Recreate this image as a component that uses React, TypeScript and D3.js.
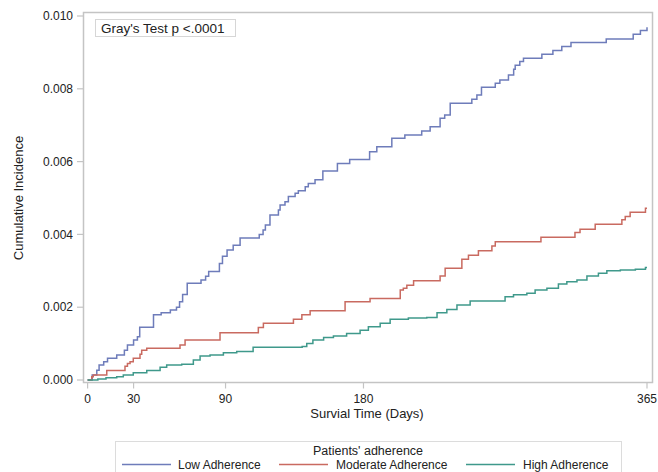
import React from "react";
import * as d3 from "d3";

const lowAdherence: [number, number][] = [
  [0, 0], [3, 0.00014], [6, 0.00027], [7.5, 0.00041], [10.5, 0.0005], [13, 0.0006], [19, 0.00069],
  [24, 0.00082], [26, 0.00096], [30, 0.0011], [32.5, 0.00119], [34, 0.00145], [43, 0.00179],
  [48, 0.00185], [54, 0.00192], [58, 0.002], [60, 0.00215], [62, 0.00235], [65, 0.00266],
  [74, 0.00275], [77, 0.00285], [79, 0.00298], [86, 0.0032], [88, 0.0034], [91, 0.00357],
  [95, 0.0037], [99.5, 0.0039], [112, 0.004], [114.5, 0.00412], [116, 0.00426], [119, 0.00453],
  [124.5, 0.00467], [125.6, 0.00481], [128.8, 0.0049], [131, 0.00504], [135.4, 0.00513],
  [137.5, 0.0052], [142, 0.00531], [144, 0.0054], [148.4, 0.0055], [153.5, 0.00574],
  [163, 0.00595], [171, 0.00606], [184, 0.00627], [188.7, 0.00641], [198.5, 0.00664],
  [207, 0.00673], [218, 0.00684], [223.5, 0.00696], [230, 0.00719], [233, 0.00728],
  [236.6, 0.0076], [250.7, 0.00771], [254, 0.00783], [257, 0.00804], [266, 0.00815],
  [269, 0.00824], [274.6, 0.00838], [278, 0.00854], [279, 0.00865], [282, 0.00875],
  [284.4, 0.00884], [296.4, 0.00895], [303.6, 0.00905], [309.4, 0.00916], [315.4, 0.00927],
  [338.4, 0.00937], [356, 0.0095], [360.7, 0.0096], [365, 0.00969],
];

const moderateAdherence: [number, number][] = [
  [0, 0], [2.7, 0.00009], [3.7, 0.00014], [12.5, 0.00026], [24.4, 0.00038], [26, 0.00045],
  [27.7, 0.0005], [29.8, 0.0006], [34.2, 0.00071], [35.3, 0.00082], [38.6, 0.00087],
  [60.3, 0.00096], [63.6, 0.0011], [86.4, 0.0013], [111.4, 0.00144], [114.7, 0.00156],
  [134.3, 0.00167], [139.8, 0.00179], [145.2, 0.0019], [168, 0.00215], [184.3, 0.00224],
  [204, 0.00247], [206, 0.00252], [208.3, 0.0026], [212.7, 0.00273], [230, 0.00286],
  [233.3, 0.00307], [244.2, 0.00332], [248.5, 0.00343], [255, 0.00355], [263.8, 0.00368],
  [266, 0.0038], [295.8, 0.00392], [318, 0.00405], [321.3, 0.00414], [331.2, 0.00428],
  [348.6, 0.0044], [350.8, 0.00449], [354, 0.00461], [364, 0.00472], [365, 0.00472],
];

const highAdherence: [number, number][] = [
  [0, 0], [6.7, 0.00003], [12, 0.00006], [19, 0.00009], [23.3, 0.00014], [29.8, 0.0002],
  [38.6, 0.00026], [47.3, 0.00035], [51.6, 0.00041], [61.4, 0.00043], [69, 0.00055],
  [73.4, 0.00066], [79.9, 0.00069], [88.6, 0.00075], [97.3, 0.00078], [108, 0.0009],
  [140, 0.00092], [143, 0.001], [147, 0.0011], [154, 0.00117], [160.4, 0.00121],
  [169, 0.00128], [177.8, 0.00137], [183.2, 0.00146], [190.9, 0.00156], [197.4, 0.00167],
  [209.3, 0.0017], [221.3, 0.00172], [228, 0.00185], [234.4, 0.00194], [241, 0.00206],
  [249.6, 0.00217], [272.4, 0.00229], [277.9, 0.00234], [286.6, 0.00238], [292, 0.00247],
  [299.7, 0.00252], [307.2, 0.00264], [312.7, 0.0027], [319.3, 0.00275], [325.8, 0.00286],
  [333.3, 0.00293], [338.8, 0.003], [347.6, 0.00302], [357.4, 0.00304], [364, 0.00309],
  [365, 0.00309],
];

const seriesNames = ["Low Adherence", "Moderate Adherence", "High Adherence"];
const seriesColors = ["#6e7cba", "#c96a60", "#3f998b"];
const xTicks = [0, 30, 90, 180, 365];
const yTicks = [0, 0.002, 0.004, 0.006, 0.008, 0.01];
const annotation = "Gray's Test p <.0001";
const legendTitle = "Patients' adherence";

const W = 658;
const H = 472;
const FONT = "'Liberation Sans', Arial, sans-serif";
const TEXT = "#222";
const AXIS = "#c4c4c4";

export default function App() {
  const x = d3.scaleLinear().domain([0, 365]).range([87.6, 647]);
  const y = d3.scaleLinear().domain([0, 0.01]).range([380, 16]);
  const line = d3
    .line<[number, number]>()
    .x((d) => x(d[0]))
    .y((d) => y(d[1]))
    .curve(d3.curveStepAfter);
  const data = [lowAdherence, moderateAdherence, highAdherence];

  const frame = { x0: 83.5, x1: 652.5, y0: 12.5, y1: 382.5 };
  const legendItems = [
    { lx: 122, tx: 178 },
    { lx: 279, tx: 336 },
    { lx: 466, tx: 523 },
  ];

  return (
    <svg
      width={W}
      height={H}
      style={{ position: "absolute", left: 0, top: 0, background: "#fff" }}
      fontFamily={FONT}
    >
      <rect x={0} y={0} width={W} height={H} fill="#fff" />
      {/* frame */}
      <rect
        x={frame.x0}
        y={frame.y0}
        width={frame.x1 - frame.x0}
        height={frame.y1 - frame.y0}
        fill="none"
        stroke={AXIS}
        strokeWidth={1.5}
      />
      {/* y ticks */}
      {yTicks.map((t) => (
        <g key={"y" + t}>
          <line x1={77} x2={frame.x0} y1={y(t)} y2={y(t)} stroke={AXIS} strokeWidth={1.2} />
          <text x={73} y={y(t)} dy="0.35em" textAnchor="end" fontSize={12} fill={TEXT}>
            {d3.format(".3f")(t)}
          </text>
        </g>
      ))}
      {/* x ticks */}
      {xTicks.map((t) => (
        <g key={"x" + t}>
          <line x1={x(t)} x2={x(t)} y1={frame.y1} y2={frame.y1 + 6} stroke={AXIS} strokeWidth={1.2} />
          <text x={x(t)} y={403} textAnchor="middle" fontSize={12} fill={TEXT}>
            {t}
          </text>
        </g>
      ))}
      <text x={367} y={418} textAnchor="middle" fontSize={13} fill={TEXT}>
        Survial Time (Days)
      </text>
      <text
        transform={`translate(23,198) rotate(-90)`}
        textAnchor="middle"
        fontSize={13}
        fill={TEXT}
      >
        Cumulative Incidence
      </text>
      {/* curves */}
      {data.map((d, i) => (
        <path key={i} d={line(d) || ""} fill="none" stroke={seriesColors[i]} strokeWidth={1.5} />
      ))}
      {/* annotation */}
      <rect x={95.5} y={19.5} width={140} height={17} fill="#fff" stroke="#d6d6d6" strokeWidth={1} />
      <text x={101} y={33} fontSize={13.5} fill={TEXT}>
        {annotation}
      </text>
      {/* legend */}
      <rect x={115.5} y={441.5} width={506} height={40} fill="#fff" stroke="#dcdcdc" strokeWidth={1} />
      <text x={368} y={455} textAnchor="middle" fontSize={12.5} fill={TEXT}>
        {legendTitle}
      </text>
      {seriesNames.map((n, i) => (
        <g key={n}>
          <line
            x1={legendItems[i].lx}
            x2={legendItems[i].lx + 49}
            y1={464.5}
            y2={464.5}
            stroke={seriesColors[i]}
            strokeWidth={1.5}
          />
          <text x={legendItems[i].tx} y={468.5} fontSize={12} fill={TEXT}>
            {n}
          </text>
        </g>
      ))}
    </svg>
  );
}
